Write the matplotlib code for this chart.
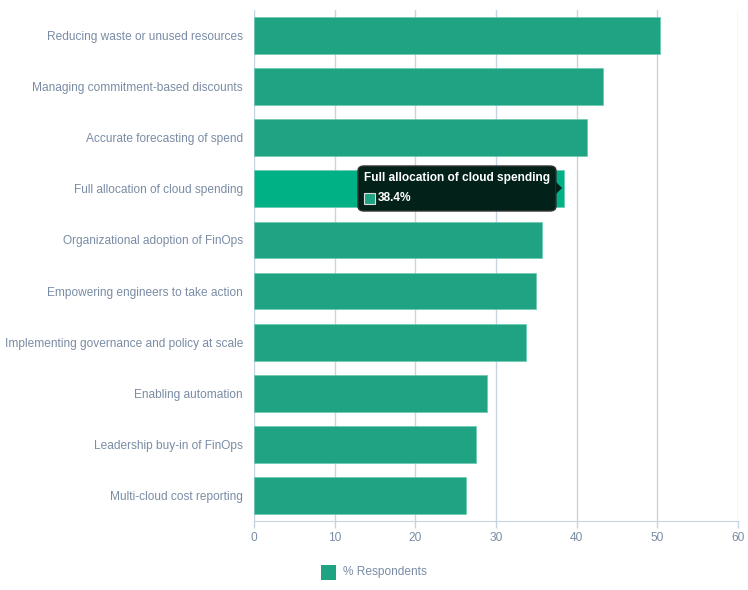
import matplotlib
matplotlib.use('Agg')
import matplotlib.pyplot as plt
from matplotlib.patches import FancyBboxPatch, Rectangle, Polygon

categories = [
    'Reducing waste or unused resources',
    'Managing commitment-based discounts',
    'Accurate forecasting of spend',
    'Full allocation of cloud spending',
    'Organizational adoption of FinOps',
    'Empowering engineers to take action',
    'Implementing governance and policy at scale',
    'Enabling automation',
    'Leadership buy-in of FinOps',
    'Multi-cloud cost reporting',
]
values = [50.3, 43.3, 41.3, 38.4, 35.7, 35.0, 33.7, 28.9, 27.5, 26.3]
series_name = '% Respondents'
hover_idx = 3

BAR = '#20a383'
HOVER = '#00b186'
TXT = '#7a8ca5'
GRID = '#c8d3e0'
FS = 8.6

plt.rcParams['font.family'] = ['Liberation Sans', 'DejaVu Sans']

fig = plt.figure(figsize=(7.48, 5.90), dpi=100)
ax = fig.add_axes([254 / 748, 1 - 521 / 590, 484 / 748, 511 / 590])

ys = list(range(len(categories)))
colors = [HOVER if i == hover_idx else BAR for i in ys]
ax.barh(ys, values, height=0.72, color=colors, edgecolor='#6cc9b0', linewidth=0.5, zorder=3)

ax.set_xlim(0, 60)
ax.set_ylim(len(categories) - 0.5, -0.5)
ax.set_xticks(range(0, 61, 10))
ax.set_yticks(ys)
ax.set_yticklabels(categories, fontsize=FS, color=TXT)
ax.tick_params(axis='x', colors=GRID, labelcolor=TXT, labelsize=FS, length=5, width=1, pad=3)
ax.tick_params(axis='y', length=0, pad=8)
ax.grid(axis='x', color=GRID, linewidth=1, zorder=0)
for s in ['top', 'right', 'left']:
    ax.spines[s].set_visible(False)
ax.spines['bottom'].set_color(GRID)

# tooltip on hovered bar (pixel coords)
def px(x, y):
    return (x / 748, 1 - y / 590)

tb = FancyBboxPatch(px(358, 211), 198 / 748, 45 / 590,
                    boxstyle='round,pad=0,rounding_size=0.008',
                    transform=fig.transFigure, facecolor='#022219',
                    edgecolor='#333333', linewidth=1, zorder=10)
fig.add_artist(tb)
fig.add_artist(Polygon([px(556, 182), px(562, 188), px(556, 194)], closed=True,
                       transform=fig.transFigure, facecolor='#022219', edgecolor='none', zorder=11))
fig.text(*px(364, 178), categories[hover_idx], color='white', fontsize=FS,
         fontweight='bold', va='center', ha='left', zorder=12)
fig.add_artist(Rectangle(px(364, 204), 11 / 748, 11 / 590, transform=fig.transFigure,
                         facecolor=BAR, edgecolor='#dddddd', linewidth=0.8, zorder=12))
fig.text(*px(378, 198), f'{values[hover_idx]}%', color='white', fontsize=FS,
         fontweight='bold', va='center', ha='left', zorder=12)

# legend
fig.add_artist(Rectangle(px(321, 580), 15 / 748, 15 / 590, transform=fig.transFigure,
                         facecolor=BAR, edgecolor='none'))
fig.text(*px(343, 572), series_name, color=TXT, fontsize=FS, va='center', ha='left')

fig.savefig('out.png', dpi=100)
